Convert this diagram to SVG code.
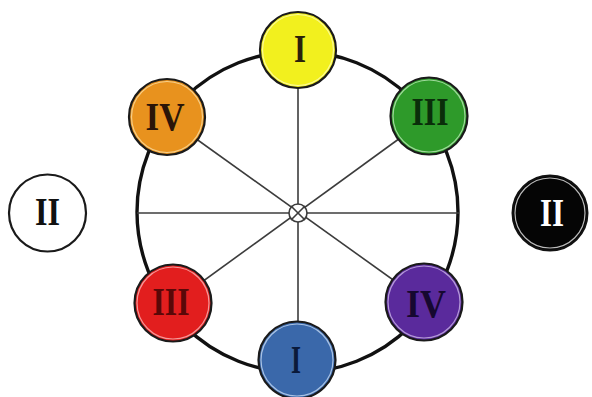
<svg xmlns="http://www.w3.org/2000/svg" width="592" height="397" viewBox="0 0 592 397">
<style>
.ring{fill:none;stroke:#111;stroke-width:3.4}
.spoke{stroke:#3c3c3c;stroke-width:1.6;fill:none}
.node{stroke:#1a1a1a;stroke-width:2.2}
.inner{fill:none;stroke-width:1.2}
.lbl{font-family:"Liberation Serif","Times New Roman",serif;font-weight:bold;font-size:39px;text-anchor:middle}
</style>
<rect width="592" height="397" fill="#fff"/>
<g id="connectors">
<circle class="ring" cx="297.5" cy="212" r="160.5"/>
<line class="spoke" x1="298" y1="51" x2="298" y2="360"/>
<line class="spoke" x1="137" y1="213" x2="459" y2="213"/>
<line class="spoke" x1="167" y1="118" x2="424" y2="302"/>
<line class="spoke" x1="429" y1="117" x2="173" y2="303"/>
<circle cx="298" cy="213" r="9" fill="#fff" stroke="#3c3c3c" stroke-width="1.6"/>
<line class="spoke" x1="291" y1="206" x2="305" y2="220"/>
<line class="spoke" x1="305" y1="206" x2="291" y2="220"/>
</g>
<g id="yellow-I">
<circle class="node" cx="298" cy="50" r="38" fill="#f2f01e"/>
<circle class="inner" cx="298" cy="50" r="35.5" stroke="#fbfa9a"/>
<text class="lbl" x="300" y="62" fill="#2a200a" textLength="12" lengthAdjust="spacingAndGlyphs">I</text>
</g>
<g id="orange-IV">
<circle class="node" cx="167" cy="117" r="38" fill="#e8921e"/>
<circle class="inner" cx="167" cy="117" r="35.5" stroke="#f6cf8a"/>
<text class="lbl" x="165" y="130" fill="#2a1508" textLength="39" lengthAdjust="spacingAndGlyphs">IV</text>
</g>
<g id="green-III">
<circle class="node" cx="429" cy="116" r="38.5" fill="#2e9a2a"/>
<circle class="inner" cx="429" cy="116" r="36" stroke="#9ed89a"/>
<text class="lbl" x="430" y="125" fill="#0a2e0a" textLength="37" lengthAdjust="spacingAndGlyphs">III</text>
</g>
<g id="white-II">
<circle cx="47.5" cy="213" r="38.5" fill="#fff" stroke="#1a1a1a" stroke-width="2.2"/>
<text class="lbl" x="47.5" y="225" fill="#111" textLength="25" lengthAdjust="spacingAndGlyphs">II</text>
</g>
<g id="black-II">
<circle cx="550" cy="213" r="37.5" fill="#050505" stroke="#111" stroke-width="2"/>
<circle class="inner" cx="550" cy="213" r="35" stroke="#bbb"/>
<text class="lbl" x="552" y="226" fill="#fff" textLength="24" lengthAdjust="spacingAndGlyphs">II</text>
</g>
<g id="red-III">
<circle class="node" cx="173" cy="303" r="38.5" fill="#e21e1e"/>
<circle class="inner" cx="173" cy="303" r="36" stroke="#f49a9a"/>
<text class="lbl" x="171" y="315" fill="#5a0808" textLength="37" lengthAdjust="spacingAndGlyphs">III</text>
</g>
<g id="purple-IV">
<circle class="node" cx="424" cy="302" r="38.5" fill="#5a2a9c"/>
<circle class="inner" cx="424" cy="302" r="36" stroke="#b59ad8"/>
<text class="lbl" x="426" y="317" fill="#160830" textLength="40" lengthAdjust="spacingAndGlyphs">IV</text>
</g>
<g id="blue-I">
<circle class="node" cx="297" cy="360" r="38.5" fill="#3a68aa"/>
<circle class="inner" cx="297" cy="360" r="36" stroke="#a8c2e4"/>
<text class="lbl" x="296" y="373" fill="#0a1a3a" textLength="10" lengthAdjust="spacingAndGlyphs">I</text>
</g>
</svg>
